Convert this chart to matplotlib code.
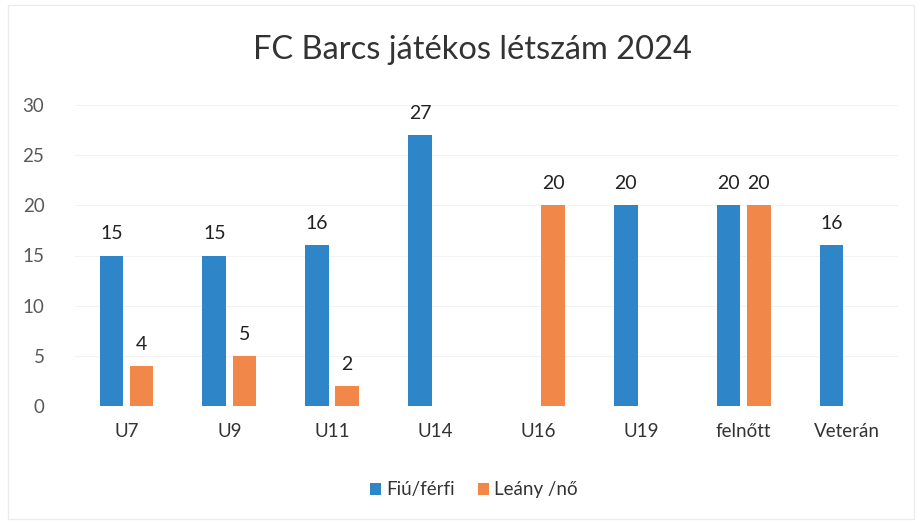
import matplotlib
matplotlib.use("Agg")
import matplotlib.pyplot as plt
import numpy as np

categories = ["U7", "U9", "U11", "U14", "U16", "U19", "felnőtt", "Veterán"]
boys = [15, 15, 16, 27, None, 20, 20, 16]
girls = [4, 5, 2, None, 20, None, 20, None]
series_names = ["Fiú/férfi", "Leány /nő"]
title = "FC Barcs játékos létszám 2024"
yticks = [0, 5, 10, 15, 20, 25, 30]

blue = "#2E86C8"
orange = "#F2874A"

plt.rcParams['font.family'] = ['Lato', 'DejaVu Sans']

fig = plt.figure(figsize=(9.2, 5.22), dpi=100)
ax = fig.add_axes([75/920, 1-406/522, 823/920, 301/522])

x = np.arange(len(categories))
w = 0.23
off = 0.146
for vals, o, c, name in [(boys, -off, blue, series_names[0]), (girls, off, orange, series_names[1])]:
    xs = [xi + o for xi, v in zip(x, vals) if v is not None]
    vs = [v for v in vals if v is not None]
    bars = ax.bar(xs, vs, width=w, color=c, label=name, zorder=3)
    for b, v in zip(bars, vs):
        ax.text(b.get_x() + b.get_width()/2, v + 1.3, str(v), ha='center', va='bottom',
                fontsize=14, color='#222222')

ax.set_xlim(-0.5, len(categories) - 0.5)
ax.set_ylim(0, 30)
ax.set_yticks(yticks)
ax.set_yticklabels([str(t) for t in yticks], fontsize=13.5, color='#595959')
ax.set_xticks(x)
ax.set_xticklabels(categories, fontsize=13.5, color='#333333')
ax.tick_params(axis='both', length=0)
ax.tick_params(axis='x', pad=12)
ax.tick_params(axis='y', pad=22)
ax.grid(axis='y', color='#f3f3f3', linewidth=0.8, zorder=0)
for s in ax.spines.values():
    s.set_visible(False)

fig.text(0.513, 1-50/522, title, ha='center', va='center', fontsize=23.5, color='#333333')

leg = fig.legend(loc='center', bbox_to_anchor=(0.515, 1-490/522), ncol=2, frameon=False,
                 fontsize=13.5, handlelength=0.6, handleheight=0.6, handletextpad=0.3,
                 columnspacing=1.2)
for t in leg.get_texts():
    t.set_color('#333333')

fig.patches.append(plt.Rectangle((8/920, 0.005), 0.985, 0.985, transform=fig.transFigure,
                                 fill=False, edgecolor='#ececec', linewidth=1))

fig.savefig("out.png", dpi=100, facecolor='white')
